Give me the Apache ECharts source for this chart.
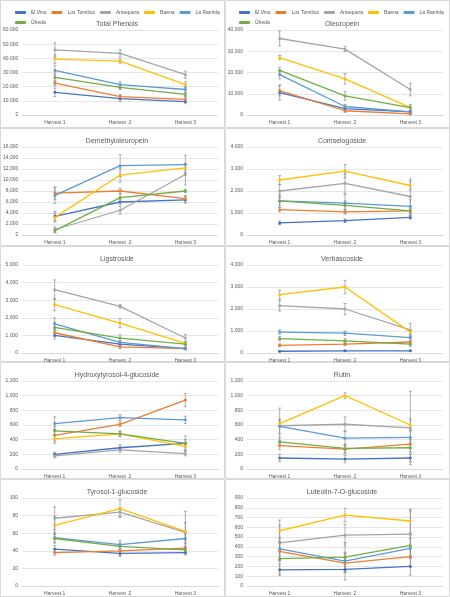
<!DOCTYPE html>
<html>
<head>
<meta charset="utf-8">
<script src="https://cdn.jsdelivr.net/npm/echarts@6/dist/echarts.min.js"></script>
<style>html,body{margin:0;padding:0;background:#fff}#main{width:450px;height:597px}</style>
</head>
<body>
<div id="main"></div>
<script>
var harvests = ['Harvest 1', 'Harvest  2', 'Harvest 3'];
var cultivars = ['El Viso', 'Los Tomillos', 'Antequera', 'Baena', 'La Rambla', 'Úbeda'];
var colors = ['#4472C4', '#ED7D31', '#A5A5A5', '#FFC000', '#5B9BD5', '#70AD47'];

var titles = ['Total Phenols', 'Oleuropein', 'Demethyloleuropein', 'Comselogoside', 'Ligstroside',
    'Verbascoside', 'Hydroxytyrosol-4-glucoside', 'Rutin', 'Tyrosol-1-glucoside', 'Luteolin-7-O-glucoside'];
var axisMax = [60000, 40000, 16000, 4000, 5000, 4000, 1200, 1200, 100, 900];
var axisStep = [10000, 10000, 2000, 1000, 1000, 1000, 200, 200, 20, 100];

// values per panel: one row per cultivar, three harvests
var totalPhenols = [[16000, 11500, 9500], [22500, 13000, 11000], [46000, 43500, 28500], [39500, 38000, 21500], [31500, 21500, 18000], [26500, 19500, 14500]];
var oleuropein = [[10500, 3000, 1500], [11500, 2000, 500], [36000, 31000, 12000], [27000, 17000, 3500], [19000, 4000, 1500], [21000, 9000, 3500]];
var demethyl = [[3400, 6000, 6400], [7600, 8000, 6600], [1000, 4500, 11000], [3200, 10900, 12200], [7200, 12600, 12800], [800, 6800, 8000]];
var comselogoside = [[550, 650, 800], [1150, 1050, 1100], [2000, 2350, 1750], [2500, 2900, 2250], [1550, 1450, 1300], [1550, 1350, 1100]];
var ligstroside = [[1000, 500, 250], [1150, 350, 250], [3600, 2650, 850], [2750, 1700, 550], [1650, 600, 250], [1450, 850, 500]];
var verbascoside = [[80, 100, 100], [350, 400, 500], [2150, 2000, 1050], [2650, 3000, 950], [950, 900, 700], [650, 550, 400]];
var hydroxy = [[200, 290, 350], [460, 610, 940], [180, 260, 210], [410, 480, 310], [620, 700, 670], [520, 480, 350]];
var rutin = [[150, 135, 150], [320, 270, 340], [590, 610, 560], [620, 1000, 600], [580, 420, 430], [370, 280, 290]];
var tyrosol = [[42, 37, 38], [38, 40, 43], [77, 84, 61], [69, 88, 62], [55, 47, 54], [54, 45, 41]];
var luteolin = [[165, 170, 200], [355, 235, 300], [440, 520, 530], [565, 725, 665], [380, 255, 385], [280, 295, 415]];

// standard deviations (same shape)
var sdTotal = [[3000, 2000, 1500], [2000, 1500, 1500], [5000, 2500, 2500], [3000, 1500, 2000], [3500, 2000, 2000], [3000, 1500, 1500]];
var sdOleu = [[3500, 1000, 500], [2500, 800, 300], [3500, 1200, 3000], [1000, 2500, 800], [2000, 1000, 500], [1500, 2000, 1500]];
var sdDem = [[900, 500, 600], [1100, 500, 600], [500, 700, 1900], [800, 1300, 800], [1500, 2000, 1700], [400, 700, 300]];
var sdCom = [[80, 80, 80], [100, 100, 100], [300, 450, 800], [200, 300, 200], [300, 400, 300], [200, 200, 200]];
var sdLig = [[200, 100, 50], [200, 100, 50], [550, 100, 200], [350, 250, 100], [350, 100, 80], [300, 200, 100]];
var sdVerb = [[30, 30, 30], [60, 60, 60], [250, 250, 300], [200, 300, 100], [100, 100, 100], [100, 100, 100]];
var sdHyd = [[30, 40, 50], [80, 30, 90], [30, 30, 30], [60, 40, 50], [90, 40, 50], [60, 30, 100]];
var sdRut = [[50, 50, 50], [60, 60, 60], [240, 100, 500], [40, 40, 80], [100, 100, 100], [60, 60, 60]];
var sdTyr = [[4, 3, 3], [3, 6, 5], [13, 5, 24], [10, 10, 10], [6, 5, 5], [5, 4, 4]];
var sdLut = [[60, 110, 90], [100, 100, 100], [180, 110, 240], [110, 70, 120], [110, 90, 100], [160, 150, 110]];

var panels = [totalPhenols, oleuropein, demethyl, comselogoside, ligstroside, verbascoside, hydroxy, rutin, tyrosol, luteolin];
var sds = [sdTotal, sdOleu, sdDem, sdCom, sdLig, sdVerb, sdHyd, sdRut, sdTyr, sdLut];

var rowTop = [0, 128, 246, 362, 479];
var rowBottom = [128, 246, 362, 479, 597];

var chart = echarts.init(document.getElementById('main'));
var grids = [], xAxes = [], yAxes = [], series = [], titleList = [], graphics = [];

function dotted(v) {
    return String(v).replace(/(\d)(?=(\d{3})+$)/g, '$1.');
}

for (var p = 0; p < 10; p++) {
    var col = p % 2, row = Math.floor(p / 2);
    var x0 = col * 225, pTop = rowTop[row];
    graphics.push({
        type: 'rect', shape: {x: x0 + 0.5, y: pTop + 0.5, width: 224, height: rowBottom[row] - pTop - 1},
        style: {fill: 'none', stroke: '#d9d9d9', lineWidth: 1}, silent: true
    });
    var gTop = row === 0 ? 30 : pTop + 19;
    var gBottom = row === 0 ? 115 : pTop + 107;
    grids.push({left: x0 + 22, width: 196, top: gTop, height: gBottom - gTop});
    titleList.push({
        text: titles[p], left: x0 + 112, top: row === 0 ? 16 : pTop + 5, textAlign: 'center',
        textStyle: {fontSize: 7, fontWeight: 'normal', color: '#595959', fontFamily: 'Liberation Sans'}
    });
    xAxes.push({
        type: 'category', gridIndex: p, data: harvests, boundaryGap: true,
        axisLine: {lineStyle: {color: '#d9d9d9'}}, axisTick: {show: false},
        axisLabel: {fontSize: 5, color: '#595959', margin: 5}
    });
    yAxes.push({
        type: 'value', gridIndex: p, min: 0, max: axisMax[p], interval: axisStep[p],
        axisLine: {show: false}, axisTick: {show: false},
        splitLine: {lineStyle: {color: '#e6e6e6'}},
        axisLabel: {fontSize: 5, color: '#595959', margin: 4, formatter: p === 0 ? dotted : '{value}'}
    });
    var errData = [];
    for (var s = 0; s < 6; s++) {
        series.push({
            name: cultivars[s], type: 'line', xAxisIndex: p, yAxisIndex: p,
            data: panels[p][s], color: colors[s], symbol: 'circle', symbolSize: 3,
            lineStyle: {width: 1.3}, animation: false
        });
        for (var h = 0; h < 3; h++) {
            errData.push([h, panels[p][s][h] - sds[p][s][h], panels[p][s][h] + sds[p][s][h]]);
        }
    }
    series.push({
        type: 'custom', xAxisIndex: p, yAxisIndex: p, data: errData, z: 1, animation: false,
        renderItem: function (params, api) {
            var lo = api.coord([api.value(0), api.value(1)]);
            var hi = api.coord([api.value(0), api.value(2)]);
            var st = {stroke: '#8c8c8c', lineWidth: 0.7};
            return {
                type: 'group', children: [
                    {type: 'line', shape: {x1: lo[0], y1: lo[1], x2: hi[0], y2: hi[1]}, style: st},
                    {type: 'line', shape: {x1: lo[0] - 1.5, y1: lo[1], x2: lo[0] + 1.5, y2: lo[1]}, style: st},
                    {type: 'line', shape: {x1: hi[0] - 1.5, y1: hi[1], x2: hi[0] + 1.5, y2: hi[1]}, style: st}
                ]
            };
        }
    });
}

var legendCommon = {
    data: cultivars, top: 5, itemWidth: 11, itemHeight: 3, itemGap: 5, icon: 'roundRect',
    textStyle: {fontSize: 5, color: '#595959'}
};

chart.setOption({
    backgroundColor: '#fff',
    textStyle: {fontFamily: 'Liberation Sans'},
    title: titleList,
    legend: [
        Object.assign({left: 10, width: 215}, legendCommon),
        Object.assign({left: 234, width: 215}, legendCommon)
    ],
    grid: grids,
    xAxis: xAxes,
    yAxis: yAxes,
    series: series,
    graphic: graphics
});
</script>
</body>
</html>
